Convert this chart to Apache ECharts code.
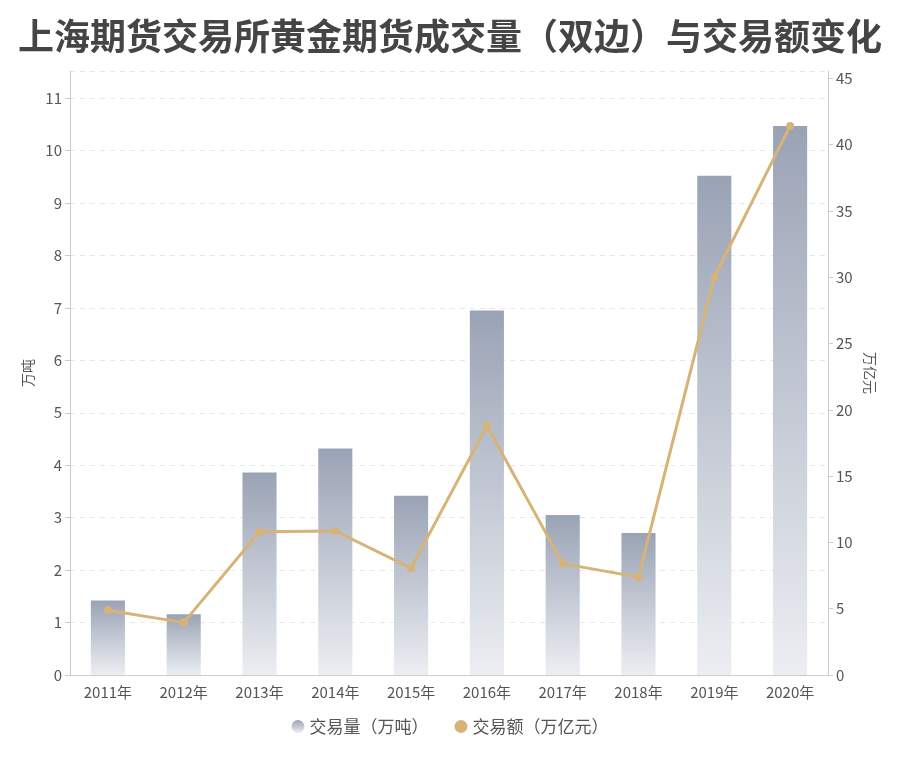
<!DOCTYPE html>
<html>
<head>
<meta charset="utf-8">
<script src="https://cdn.jsdelivr.net/npm/echarts@6/dist/echarts.min.js"></script>
<style>
html,body{margin:0;padding:0;background:#fff;}
#main{width:900px;height:760px;}
</style>
</head>
<body>
<div id="main"></div>
<script>
var titleText = '上海期货交易所黄金期货成交量（双边）与交易额变化';
var years = ['2011年','2012年','2013年','2014年','2015年','2016年','2017年','2018年','2019年','2020年'];
var volumeName = '交易量（万吨）';
var amountName = '交易额（万亿元）';
var volume = [1.42, 1.16, 3.86, 4.32, 3.42, 6.95, 3.05, 2.71, 9.52, 10.47];
var amount = [4.88, 3.95, 10.80, 10.86, 8.06, 18.80, 8.40, 7.38, 30.00, 41.41];

var fontFamily = '"Noto Sans CJK SC", "Noto Sans", sans-serif';
var chart = echarts.init(document.getElementById('main'));
chart.setOption({
  backgroundColor: '#ffffff',
  textStyle: { fontFamily: fontFamily },
  title: {
    text: titleText,
    left: 'center',
    top: 13,
    textStyle: { fontSize: 36, fontWeight: 'bold', color: '#454545', fontFamily: fontFamily }
  },
  legend: {
    bottom: 20,
    left: 'center',
    icon: 'circle',
    itemWidth: 13,
    itemHeight: 13,
    itemGap: 26,
    textStyle: { fontSize: 17, color: '#555' },
    data: [volumeName, amountName]
  },
  grid: { left: 70, right: 72, top: 71, bottom: 85 },
  xAxis: {
    type: 'category',
    data: years,
    axisLine: { lineStyle: { color: '#cccccc' } },
    axisTick: { alignWithLabel: true, lineStyle: { color: '#cccccc' } },
    axisLabel: { color: '#555', fontSize: 15, margin: 10 }
  },
  yAxis: [
    {
      type: 'value',
      name: '万吨',
      nameLocation: 'middle',
      nameGap: 31,
      nameTextStyle: { color: '#555', fontSize: 14 },
      min: 0,
      max: function (v) { return v.max * 1.1; },
      interval: 1,
      axisLine: { show: true, lineStyle: { color: '#cccccc' } },
      axisTick: { show: true, lineStyle: { color: '#cccccc' } },
      axisLabel: { color: '#555', fontSize: 15, showMaxLabel: false },
      splitLine: { show: true, lineStyle: { color: '#e8e8e8', type: [5, 5] } }
    },
    {
      type: 'value',
      name: '万亿元',
      nameLocation: 'middle',
      nameRotate: -90,
      nameGap: 33,
      nameTextStyle: { color: '#555', fontSize: 14 },
      min: 0,
      max: function (v) { return v.max * 1.1; },
      interval: 5,
      axisLine: { show: true, lineStyle: { color: '#cccccc' } },
      axisTick: { show: true, lineStyle: { color: '#cccccc' } },
      axisLabel: { color: '#555', fontSize: 15, showMaxLabel: false },
      splitLine: { show: false }
    }
  ],
  series: [
    {
      name: volumeName,
      type: 'bar',
      yAxisIndex: 0,
      barWidth: '45%',
      itemStyle: {
        color: new echarts.graphic.LinearGradient(0, 0, 0, 1, [
          { offset: 0, color: '#9aa3b5' },
          { offset: 1, color: '#eceef2' }
        ])
      },
      data: volume
    },
    {
      name: amountName,
      type: 'line',
      yAxisIndex: 1,
      symbol: 'circle',
      symbolSize: 8,
      lineStyle: { color: '#d8b377', width: 3 },
      itemStyle: { color: '#d8b377' },
      data: amount
    }
  ]
});
</script>
</body>
</html>
